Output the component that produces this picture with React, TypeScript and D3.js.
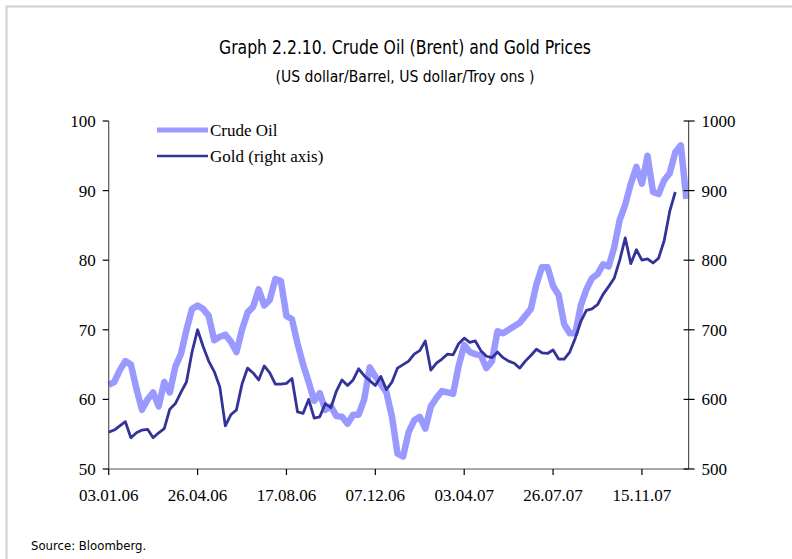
import React from "react";
import * as d3 from "d3";

// Weekly samples (every 5 trading days) starting 03.01.06
const oilBrent: number[] = [
  62.1, 62.5, 64.2, 65.5, 65.0, 61.5, 58.5, 60.0, 61.0, 59.0,
  62.5, 61.0, 64.7, 66.5, 70.0, 73.0, 73.5, 73.0, 72.0, 68.5,
  69.0, 69.3, 68.3, 66.8, 70.0, 72.5, 73.3, 75.8, 73.5, 74.3,
  77.3, 77.0, 72.0, 71.5, 68.0, 65.0, 62.5, 59.8, 60.9, 58.5,
  59.0, 57.6, 57.5, 56.5, 57.8, 57.8, 60.0, 64.6, 63.3, 62.2,
  61.0, 57.5, 52.2, 51.8, 55.3, 57.0, 57.5, 55.8, 59.0, 60.2,
  61.2, 61.0, 60.8, 64.8, 67.8, 66.8, 66.5, 66.3, 64.5, 65.5,
  69.8, 69.5, 70.0, 70.5, 71.0, 72.0, 73.0, 76.5, 79.0, 79.0,
  76.3, 75.0, 70.8, 69.5, 69.5, 73.5, 75.8, 77.4, 78.0, 79.4,
  79.1, 81.8, 85.8, 88.0, 91.0, 93.4, 91.0, 95.0, 89.8, 89.5,
  91.5, 92.5, 95.5, 96.5, 88.8,
];

const goldPrice: number[] = [
  553, 556, 562, 568, 545, 552, 556, 557, 545, 552,
  558, 586, 594, 610, 625, 668, 700, 676, 655, 640,
  618, 562, 578, 585, 622, 645, 638, 628, 648, 638,
  622, 622, 623, 630, 582, 580, 600, 573, 575, 594,
  588, 612, 628, 620, 628, 644, 634, 627, 620, 633,
  614, 625, 645, 650, 655, 665, 670, 684, 642, 652,
  658, 665, 664, 680, 688, 682, 684, 670, 662, 660,
  668, 660, 655, 652, 645, 655, 663, 672, 667, 666,
  671, 658, 658, 668, 688, 712, 728, 730, 736, 751,
  762, 774, 800, 832, 795, 815, 800, 802, 796, 803,
  828, 870, 898,
];

const xTickLabels: string[] = [
  "03.01.06", "26.04.06", "17.08.06", "07.12.06", "03.04.07", "26.07.07", "15.11.07",
];
const xTickDays: number[] = [0, 80, 160, 240, 320, 400, 480];
const leftTicks: number[] = [50, 60, 70, 80, 90, 100];
const rightTicks: number[] = [500, 600, 700, 800, 900, 1000];

const DAYS_PER_SAMPLE = 5;
const TOTAL_DAYS = 522;

const OIL_COLOR = "#9999FF";
const GOLD_COLOR = "#333399";
const AXIS_COLOR = "#555555";
const SERIF = "'Liberation Serif', 'Times New Roman', serif";
const NARROW =
  "'Liberation Sans Narrow', 'Arial Narrow', 'DejaVu Sans Condensed', 'Liberation Sans', sans-serif";

export default function App() {
  const W = 792;
  const H = 559;
  const left = 108.7;
  const right = 688.6;
  const top = 121;
  const bottom = 469;

  const x = d3.scaleLinear().domain([0, TOTAL_DAYS]).range([left, right]);
  const yL = d3.scaleLinear().domain([50, 100]).range([bottom, top]);
  const yR = d3.scaleLinear().domain([500, 1000]).range([bottom, top]);

  const oilLine = d3
    .line<number>()
    .x((_, i) => x(i * DAYS_PER_SAMPLE))
    .y((d) => yL(d));
  const goldLine = d3
    .line<number>()
    .x((_, i) => x(i * DAYS_PER_SAMPLE))
    .y((d) => yR(d));

  return (
    <svg
      width={W}
      height={H}
      style={{ position: "absolute", left: 0, top: 0, background: "#fff" }}
    >
      <rect x={0} y={0} width={W} height={H} fill="#fff" />
      {/* frame */}
      <line x1={6.5} y1={6} x2={6.5} y2={H} stroke="#d4d0c8" strokeWidth={2} />
      <line x1={6} y1={6.5} x2={W} y2={6.5} stroke="#d4d0c8" strokeWidth={2} />

      {/* titles */}
      <text
        x={405}
        y={54}
        textAnchor="middle"
        fontFamily={NARROW}
        fontSize={19}
        fill="#000"
        textLength={372}
        lengthAdjust="spacingAndGlyphs"
      >
        Graph 2.2.10. Crude Oil (Brent) and Gold Prices
      </text>
      <text
        x={405}
        y={82}
        textAnchor="middle"
        fontFamily={NARROW}
        fontSize={15}
        fill="#000"
        textLength={259}
        lengthAdjust="spacingAndGlyphs"
      >
        (US dollar/Barrel, US dollar/Troy ons )
      </text>

      {/* series */}
      <path
        d={oilLine(oilBrent) || ""}
        fill="none"
        stroke={OIL_COLOR}
        strokeWidth={6.5}
        strokeLinejoin="round"
      />
      <path
        d={goldLine(goldPrice) || ""}
        fill="none"
        stroke={GOLD_COLOR}
        strokeWidth={2.8}
        strokeLinejoin="round"
      />

      {/* axes */}
      <line x1={left} y1={top} x2={left} y2={bottom} stroke={AXIS_COLOR} strokeWidth={1.2} />
      <line x1={right} y1={top} x2={right} y2={bottom} stroke={AXIS_COLOR} strokeWidth={1.2} />
      <line x1={left} y1={bottom} x2={right} y2={bottom} stroke={AXIS_COLOR} strokeWidth={1.2} />

      {leftTicks.map((t) => (
        <g key={"l" + t}>
          <line x1={left - 6} x2={left} y1={yL(t)} y2={yL(t)} stroke="#000" strokeWidth={1.2} />
          <text
            x={left - 13}
            y={yL(t)}
            dy="0.35em"
            textAnchor="end"
            fontFamily={SERIF}
            fontSize={17}
            fill="#000"
          >
            {t}
          </text>
        </g>
      ))}
      {rightTicks.map((t) => (
        <g key={"r" + t}>
          <line x1={right - 5} x2={right + 6} y1={yR(t)} y2={yR(t)} stroke="#000" strokeWidth={1.2} />
          <text
            x={right + 13}
            y={yR(t)}
            dy="0.35em"
            textAnchor="start"
            fontFamily={SERIF}
            fontSize={17}
            fill="#000"
          >
            {t}
          </text>
        </g>
      ))}
      {xTickDays.map((d, i) => (
        <g key={"x" + d}>
          <line x1={x(d)} x2={x(d)} y1={bottom} y2={bottom + 6} stroke="#000" strokeWidth={1.2} />
          <text
            x={x(d)}
            y={501}
            textAnchor="middle"
            fontFamily={SERIF}
            fontSize={17}
            fill="#000"
          >
            {xTickLabels[i]}
          </text>
        </g>
      ))}

      {/* legend */}
      <line x1={157} x2={208} y1={130} y2={130} stroke={OIL_COLOR} strokeWidth={5} />
      <text x={210} y={130} dy="0.35em" fontFamily={SERIF} fontSize={17} fill="#000">
        Crude Oil
      </text>
      <line x1={157} x2={208} y1={156} y2={156} stroke={GOLD_COLOR} strokeWidth={2.5} />
      <text x={210} y={156} dy="0.35em" fontFamily={SERIF} fontSize={17} fill="#000">
        Gold (right axis)
      </text>

      {/* source */}
      <text x={31} y={550} fontFamily={NARROW} fontSize={13} fill="#000">
        Source: Bloomberg.
      </text>
    </svg>
  );
}
